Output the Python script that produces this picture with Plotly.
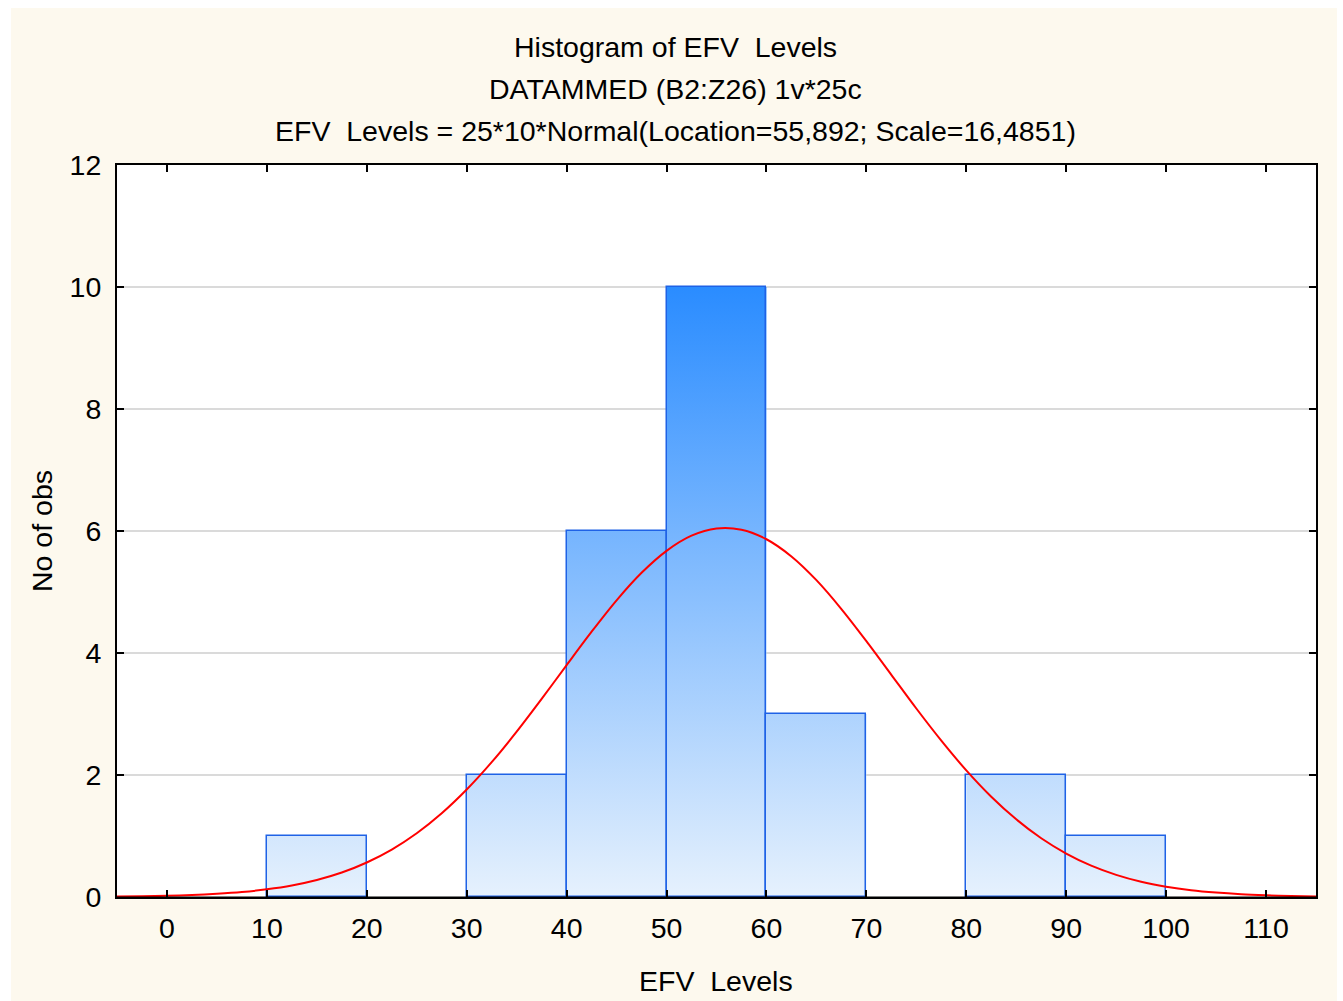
import plotly.graph_objects as go

# ---- data ----
bin_left = [10, 20, 30, 40, 50, 60, 70, 80, 90]
bin_right = [20, 30, 40, 50, 60, 70, 80, 90, 100]
counts = [1, 0, 2, 6, 10, 3, 0, 2, 1]

curve_x = [-5, -2.5, 0, 2.5, 5, 7.5, 10, 12.5, 15, 17.5, 20, 22.5, 25, 27.5,
           30, 32.5, 35, 37.5, 40, 42.5, 45, 47.5, 50, 52.5, 55, 57.5, 60,
           62.5, 65, 67.5, 70, 72.5, 75, 77.5, 80, 82.5, 85, 87.5, 90, 92.5,
           95, 97.5, 100, 102.5, 105, 107.5, 110, 112.5, 115]
curve_y = [0.007, 0.011, 0.019, 0.032, 0.052, 0.081, 0.126, 0.189, 0.279,
           0.402, 0.566, 0.778, 1.045, 1.373, 1.762, 2.210, 2.710, 3.247,
           3.801, 4.349, 4.864, 5.315, 5.675, 5.923, 6.041, 6.021, 5.865,
           5.583, 5.194, 4.721, 4.195, 3.643, 3.090, 2.563, 2.076, 1.644,
           1.273, 0.963, 0.712, 0.514, 0.363, 0.250, 0.169, 0.111, 0.072,
           0.045, 0.028, 0.017, 0.010]

x_ticks = [0, 10, 20, 30, 40, 50, 60, 70, 80, 90, 100, 110]
y_ticks = [0, 2, 4, 6, 8, 10, 12]

title_lines = [
    "Histogram of EFV\u00a0 Levels",
    "DATAMMED (B2:Z26) 1v*25c",
    "EFV\u00a0 Levels = 25*10*Normal(Location=55,892; Scale=16,4851)",
]
x_title = "EFV\u00a0 Levels"
y_title = "No of obs"

FONT = "Liberation Sans, Arial, sans-serif"
FS = 28.5

# gradient fill outline built from bins
gx, gy = [], []
for l, r, c in zip(bin_left, bin_right, counts):
    gx += [l, l, r, r]
    gy += [0, c, c, 0]

fig = go.Figure()

fig.add_trace(go.Scatter(
    x=gx, y=gy, mode="lines", fill="toself",
    line=dict(width=0, color="rgba(0,0,0,0)"),
    fillgradient=dict(type="vertical", start=0, stop=10,
                      colorscale=[[0, "#e6f1fd"], [1, "#2a8cff"]]),
    hoverinfo="skip", showlegend=False,
))

centers = [(l + r) / 2 for l, r in zip(bin_left, bin_right)]
widths = [r - l for l, r in zip(bin_left, bin_right)]
bar_y = [c if c > 0 else None for c in counts]
fig.add_trace(go.Bar(
    x=centers, y=bar_y, width=widths,
    marker=dict(color="rgba(0,0,0,0)", line=dict(color="#1f62e6", width=1.5)),
    xaxis="x2", yaxis="y2", showlegend=False,
))

fig.add_trace(go.Scatter(
    x=curve_x, y=curve_y, mode="lines",
    line=dict(color="#ff0000", width=2, shape="spline", smoothing=0.8),
    xaxis="x2", yaxis="y2", showlegend=False,
))

L, R, T, B = 117, 27, 165, 104
W, H = 1343, 1001
pw, ph = W - L - R, H - T - B


def px_x(p):
    return (p - L) / pw


def px_y(p):
    return (H - B - p) / ph


axis_common = dict(
    showline=True, linecolor="black", linewidth=2, mirror="ticks",
    ticks="inside", ticklen=7, tickwidth=2, tickcolor="black",
    zeroline=False,
    tickfont=dict(family=FONT, size=FS, color="black"),
)

fig.update_layout(
    width=W, height=H,
    margin=dict(l=L, r=R, t=T, b=B, pad=0),
    paper_bgcolor="white",
    plot_bgcolor="white",
    showlegend=False,
    font=dict(family=FONT, size=FS, color="black"),
    xaxis=dict(range=[-5, 115], tickvals=x_ticks, showgrid=False,
               ticklabelstandoff=5, **axis_common),
    yaxis=dict(range=[0, 12], tickvals=y_ticks, showgrid=True,
               gridcolor="#dadada", gridwidth=2, ticklabelstandoff=8,
               **axis_common),
    xaxis2=dict(range=[-5, 115], overlaying="x", visible=False),
    yaxis2=dict(range=[0, 12], overlaying="y", visible=False),
    bargap=0,
    shapes=[
        dict(type="rect", xref="paper", yref="paper",
             x0=px_x(11), x1=px_x(1337), y0=px_y(1001), y1=px_y(8),
             fillcolor="#fdf9ee", line=dict(width=0), layer="below"),
        dict(type="rect", xref="paper", yref="paper",
             x0=0, x1=1, y0=0, y1=1,
             fillcolor="white", line=dict(width=0), layer="below"),
        dict(type="line", xref="paper", yref="paper",
             x0=0, x1=1, y0=0, y1=0,
             line=dict(color="black", width=1.2), layer="above"),
    ],
)

annotations = []
for text, yc in zip(title_lines, [47, 89, 131]):
    annotations.append(dict(
        text=text, xref="paper", yref="paper", x=px_x(675), y=px_y(yc),
        xanchor="center", yanchor="middle", showarrow=False,
        font=dict(family=FONT, size=FS, color="black"),
    ))
annotations.append(dict(
    text=x_title, xref="paper", yref="paper", x=px_x(716), y=px_y(981),
    xanchor="center", yanchor="middle", showarrow=False,
    font=dict(family=FONT, size=FS, color="black"),
))
annotations.append(dict(
    text=y_title, xref="paper", yref="paper", x=px_x(42), y=px_y(531),
    xanchor="center", yanchor="middle", showarrow=False, textangle=-90,
    font=dict(family=FONT, size=FS, color="black"),
))
fig.update_layout(annotations=annotations)

fig.write_html("out.html",
               config={"displayModeBar": False},
               post_script="document.body.style.margin='0';"
                           "document.body.style.overflow='hidden';")
